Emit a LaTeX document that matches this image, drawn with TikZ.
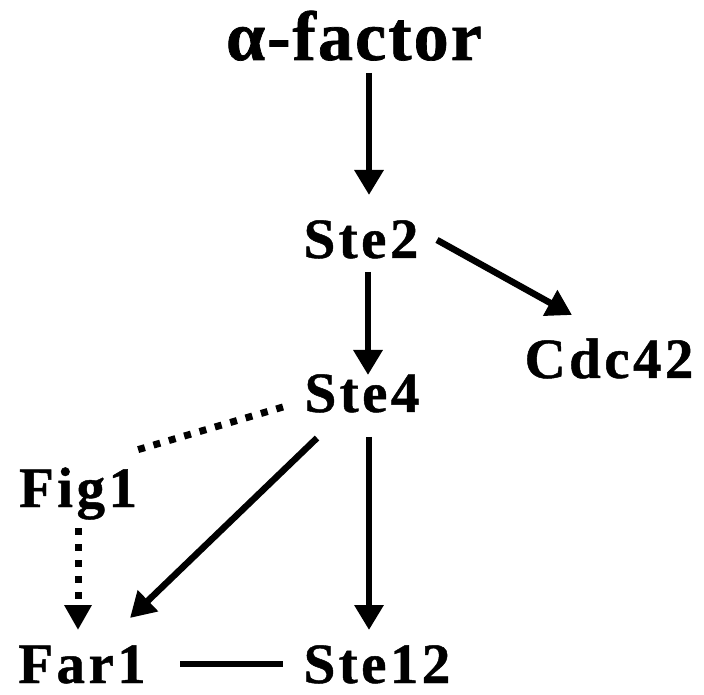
\documentclass[tikz,border=0pt]{standalone}
\usepackage{fontspec}
\setmainfont{Liberation Serif}
\usetikzlibrary{arrows.meta}
\begin{document}
\begin{tikzpicture}[x=1pt,y=1pt,
  label/.style={inner sep=0pt,anchor=base,font=\fontsize{57}{57}\selectfont\bfseries\addfontfeature{LetterSpace=6,FakeBold=0.8}},
  title/.style={inner sep=0pt,anchor=base,font=\fontsize{70}{70}\selectfont\bfseries\addfontfeature{LetterSpace=3,FakeBold=1}},
  link/.style={line width=6.5pt},
  act/.style={link,-{Triangle[length=25pt,width=28pt]}},
  weak/.style={line width=7pt,dash pattern=on 7pt off 9pt},
  weakact/.style={weak,-{Triangle[length=25pt,width=26pt]}}]
\useasboundingbox (0,0) rectangle (704,694);
\fill[white] (0,0) rectangle (704,694);
% proteins of the pheromone pathway
\node[title] (af) at (354,634) {α-factor};
\node[label] (ste2) at (361,436) {Ste2};
\node[label] (cdc) at (609,316) {Cdc42};
\node[label] (ste4) at (362,282) {Ste4};
\node[label] (fig) at (78,187) {Fig1};
\node[label] (far) at (82,11) {Far1};
\node[label] (ste12) at (377,11) {Ste12};
% interactions
\draw[act] ([shift={(15,-13)}]af.base) -- ([shift={(8,63)}]ste2.base);
\draw[act] ([shift={(7,-14)}]ste2.base) -- ([shift={(6,37)}]ste4.base);
\draw[act] ([shift={(76,18)}]ste2.base) -- ([shift={(-37,63)}]cdc.base);
\draw[act] ([shift={(7,-25)}]ste4.base) -- ([shift={(-8,53)}]ste12.base);
\draw[act] ([shift={(-45,-26)}]ste4.base) -- ([shift={(48,65)}]far.base);
\draw[weak] ([shift={(-79,5)}]ste4.base) -- ([shift={(52,55)}]fig.base);
\draw[weakact] ([shift={(0,-21)}]fig.base) -- ([shift={(-4,53)}]far.base);
\draw[link] ([shift={(98,19)}]far.base) -- ([shift={(-94,19)}]ste12.base);
\end{tikzpicture}
\end{document}
